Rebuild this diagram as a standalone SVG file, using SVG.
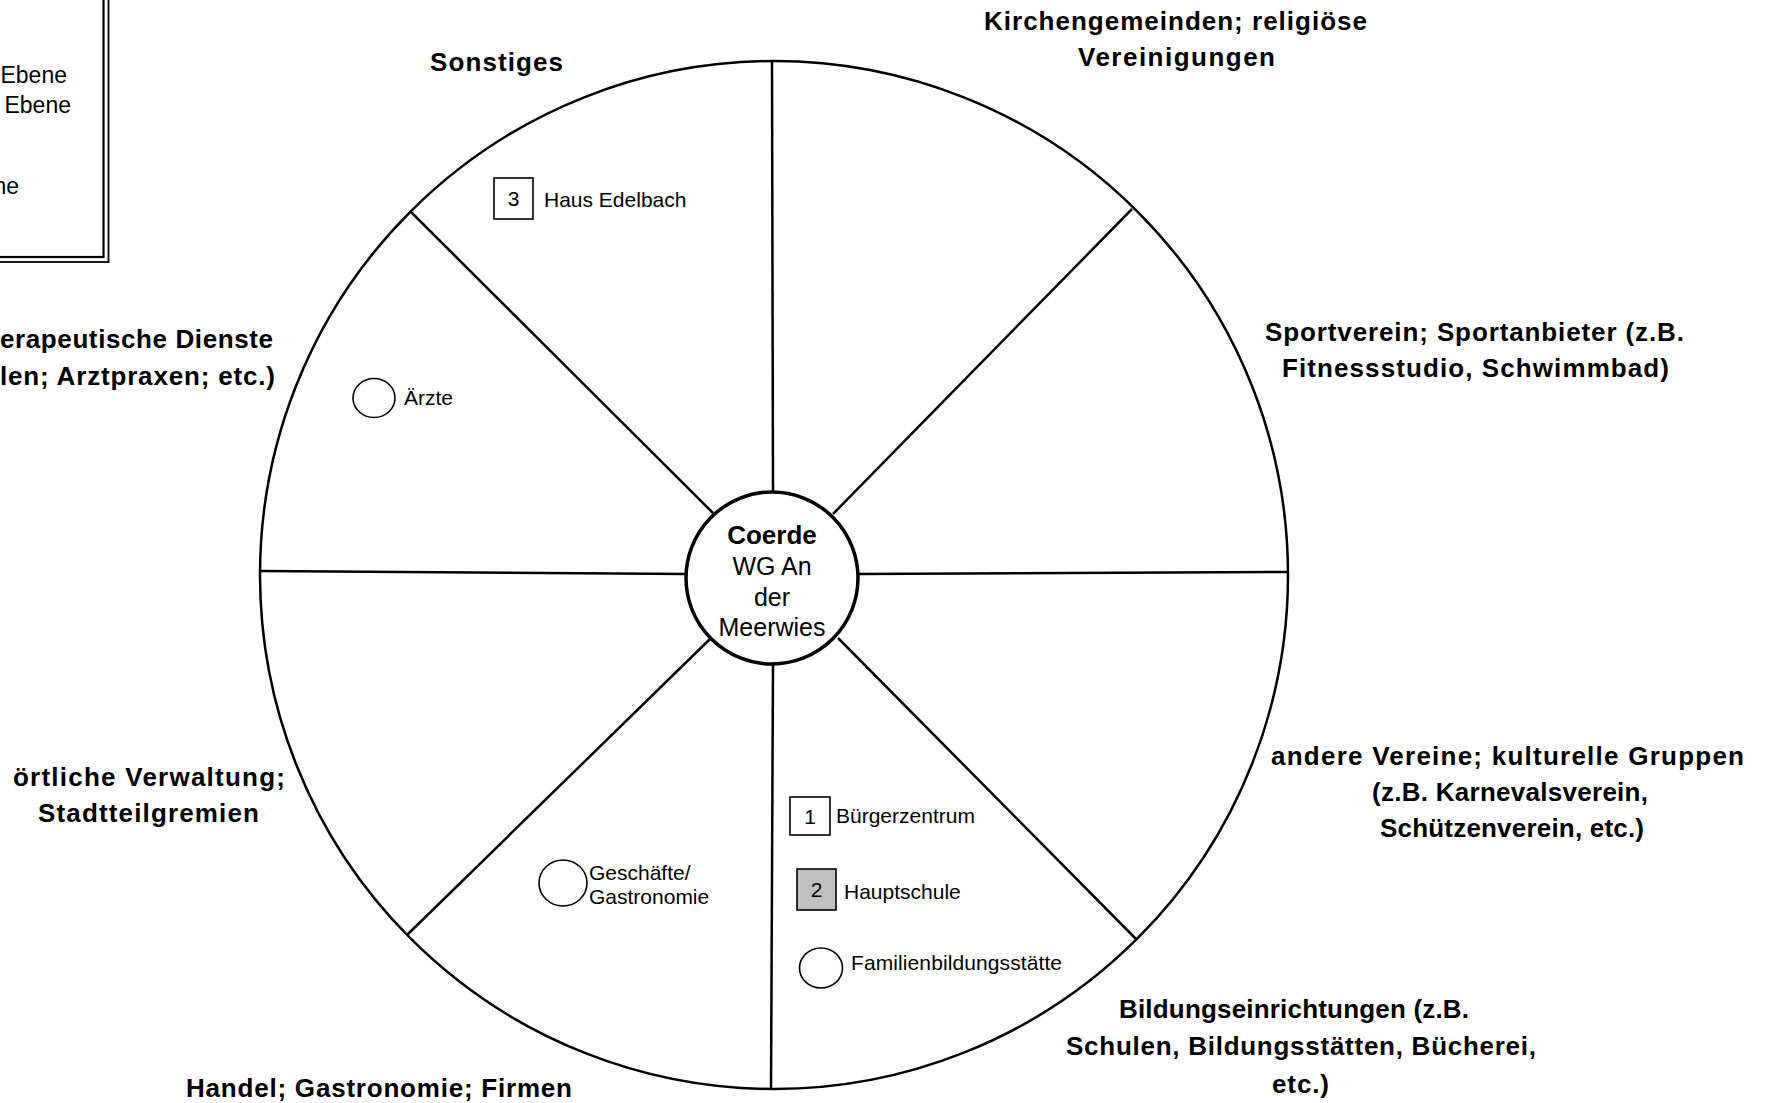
<svg xmlns="http://www.w3.org/2000/svg" width="1770" height="1103" viewBox="0 0 1770 1103">
<style>
.cat{font-family:"Liberation Sans",Arial,sans-serif;font-weight:bold;font-size:26px;fill:#000}
.lab{font-family:"Liberation Sans",Arial,sans-serif;font-size:21px;fill:#000}
.ctr{font-family:"Liberation Sans",Arial,sans-serif;font-size:25px;fill:#000;text-anchor:middle}
.spoke{stroke:#000;stroke-width:2.5;fill:none}
.sym{stroke:#000;stroke-width:1.6;fill:#fff}
</style>
<rect width="1770" height="1103" fill="#fff"/>
<g id="legend">
<rect x="-10" y="-10" width="113.5" height="267" fill="none" stroke="#000" stroke-width="2.2"/>
<rect x="-10" y="-10" width="118.5" height="272" fill="none" stroke="#000" stroke-width="1.8"/>
<text class="lab" x="67" y="83" text-anchor="end" style="font-size:23px">Ebene</text>
<text class="lab" x="71" y="113" text-anchor="end" style="font-size:23px">Ebene</text>
<text class="lab" x="19" y="194" text-anchor="end" style="font-size:23px">ne</text>
</g>
<g id="wheel">
<circle cx="774" cy="575" r="514" class="spoke"/>
</g>
<g id="connectors">
<line class="spoke" x1="772" y1="61" x2="773" y2="492"/>
<line class="spoke" x1="1132" y1="209" x2="833" y2="514"/>
<line class="spoke" x1="1288" y1="572" x2="859" y2="574"/>
<line class="spoke" x1="1136" y1="939" x2="838" y2="638"/>
<line class="spoke" x1="771" y1="1090" x2="773" y2="664"/>
<line class="spoke" x1="407" y1="935" x2="710" y2="639"/>
<line class="spoke" x1="261" y1="571" x2="686" y2="574"/>
<line class="spoke" x1="411" y1="212" x2="713" y2="513"/>
</g>
<g id="center">
<circle cx="772" cy="578" r="86" fill="#fff" stroke="#000" stroke-width="3.5"/>
<text class="ctr" x="772" y="544" style="font-weight:bold;font-size:26px">Coerde</text>
<text class="ctr" x="772" y="575">WG An</text>
<text class="ctr" x="772" y="606">der</text>
<text class="ctr" x="772" y="636">Meerwies</text>
</g>
<g id="cat-sonstiges">
<text class="cat" x="430" y="71" textLength="133">Sonstiges</text>
</g>
<g id="cat-kirche">
<text class="cat" x="984" y="30" textLength="383">Kirchengemeinden; religiöse</text>
<text class="cat" x="1078" y="66" textLength="197">Vereinigungen</text>
</g>
<g id="cat-sport">
<text class="cat" x="1265" y="341" textLength="419">Sportverein; Sportanbieter (z.B.</text>
<text class="cat" x="1282" y="377" textLength="387">Fitnessstudio, Schwimmbad)</text>
</g>
<g id="cat-vereine">
<text class="cat" x="1271" y="765" textLength="473">andere Vereine; kulturelle Gruppen</text>
<text class="cat" x="1372" y="801" textLength="276">(z.B. Karnevalsverein,</text>
<text class="cat" x="1380" y="837" textLength="264">Schützenverein, etc.)</text>
</g>
<g id="cat-bildung">
<text class="cat" x="1119" y="1018" textLength="350">Bildungseinrichtungen (z.B.</text>
<text class="cat" x="1066" y="1055" textLength="470">Schulen, Bildungsstätten, Bücherei,</text>
<text class="cat" x="1272" y="1093" textLength="57">etc.)</text>
</g>
<g id="cat-handel">
<text class="cat" x="186" y="1097" textLength="386">Handel; Gastronomie; Firmen</text>
</g>
<g id="cat-verwaltung">
<text class="cat" x="13" y="786" textLength="272">örtliche Verwaltung;</text>
<text class="cat" x="38" y="822" textLength="221">Stadtteilgremien</text>
</g>
<g id="cat-therapie">
<text class="cat" x="0" y="348" textLength="273">erapeutische Dienste</text>
<text class="cat" x="0" y="385" textLength="275">len; Arztpraxen; etc.)</text>
</g>
<g id="item-haus-edelbach">
<rect class="sym" x="494" y="178" width="39" height="41"/>
<text class="lab" x="513.5" y="206" text-anchor="middle">3</text>
<text class="lab" x="544" y="207">Haus Edelbach</text>
</g>
<g id="item-aerzte">
<ellipse class="sym" cx="374" cy="398" rx="21" ry="19.5"/>
<text class="lab" x="404" y="405">Ärzte</text>
</g>
<g id="item-geschaefte">
<ellipse class="sym" cx="563" cy="883" rx="24" ry="23"/>
<text class="lab" x="589" y="880">Geschäfte/</text>
<text class="lab" x="589" y="904">Gastronomie</text>
</g>
<g id="item-buergerzentrum">
<rect class="sym" x="790" y="797" width="40" height="38"/>
<text class="lab" x="810" y="824" text-anchor="middle">1</text>
<text class="lab" x="836" y="823">Bürgerzentrum</text>
</g>
<g id="item-hauptschule">
<rect class="sym" x="797" y="869" width="39" height="41" style="fill:#c0c0c0"/>
<text class="lab" x="816.5" y="897" text-anchor="middle">2</text>
<text class="lab" x="844" y="899">Hauptschule</text>
</g>
<g id="item-familienbildung">
<ellipse class="sym" cx="821" cy="968" rx="21.5" ry="20"/>
<text class="lab" x="851" y="970" textLength="211">Familienbildungsstätte</text>
</g>
</svg>
